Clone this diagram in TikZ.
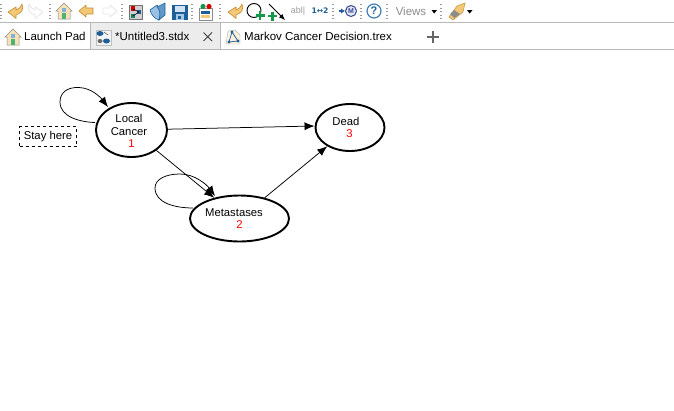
\documentclass[tikz,border=0pt]{standalone}
\usepackage{fontspec}
\setmainfont{Liberation Sans}
\newfontfamily\djv{DejaVu Sans}
\usetikzlibrary{arrows.meta,shapes.geometric}
\definecolor{tabgray}{HTML}{ECECEC}
\definecolor{linegray}{HTML}{B8B8B8}
\definecolor{iconorange}{HTML}{F4C877}
\definecolor{iconedge}{HTML}{C08F35}
\definecolor{ghost}{HTML}{E6E6E6}
\definecolor{iconblue}{HTML}{1F5F99}
\definecolor{iconsky}{HTML}{7FB2DC}
\definecolor{icongreen}{HTML}{12994A}
\tikzset{
  x=1pt,y=-1pt,
  state/.style={ellipse,draw=black,line width=1.9pt,fill=white,inner sep=0pt},
  link/.style={draw=black,line width=0.75pt,-{Latex[length=10pt,width=8pt]}},
  label/.style={font=\fontsize{11.3}{13}\selectfont,inner sep=0pt},
  tabtext/.style={font=\fontsize{11.5}{13}\selectfont,anchor=west,inner sep=0pt,text=black},
  dots/.style={draw=black!40,line width=1.3pt,dash pattern=on 1.3pt off 2.2pt},
  back/.style={draw=iconedge,fill=iconorange,line width=.6pt,line join=round},
  fwd/.style={draw=ghost,fill=white,line width=.8pt,line join=round},
  plusgreen/.style={draw=icongreen,line width=2.2pt},
}
\newcommand{\houseicon}[2]{%
  \fill[iconorange!55!white,draw=black!45,line width=.5pt] (#1-8,#2) -- (#1,#2-8) -- (#1+8,#2) -- (#1+6,#2) -- (#1+6,#2+8) -- (#1-6,#2+8) -- (#1-6,#2) -- cycle;
  \fill[icongreen!75!white] (#1-1.7,#2+2) rectangle (#1+1.7,#2+8);
  \fill[iconsky] (#1-1.7,#2-3) rectangle (#1+1.7,#2+.5);
}
% curved back arrow, drawn from its left edge #1 and top #2
\newcommand{\backicon}[2]{%
  \draw[back] (#1+14,#2) .. controls (#1+16,#2+5) and (#1+14,#2+9) .. (#1+8,#2+11) -- (#1+8,#2+14.5) -- (#1,#2+8) -- (#1+8,#2+3) -- (#1+8,#2+6) .. controls (#1+11,#2+5) and (#1+13,#2+3) .. (#1+14,#2) -- cycle;
}
\begin{document}
\begin{tikzpicture}
\useasboundingbox (0,0) rectangle (674,410);
\fill[white] (0,0) rectangle (674,410);
% toolbar and tab strip
\fill[tabgray] (90,23) rectangle (220,49);
\draw[linegray,line width=.7pt] (0,22.5) -- (674,22.5);
\draw[linegray,line width=.7pt] (0,49.5) -- (674,49.5);
\draw[linegray,line width=.7pt] (90.5,23) -- (90.5,49);
\draw[linegray,line width=.7pt] (220.5,23) -- (220.5,49);
% separators
\foreach \xx in {1,50,122,192,220,333,361,387,441}{\draw[dots] (\xx,4) -- (\xx,20);}
% back and forward icons
\backicon{8}{4}
\draw[fwd] (29,4) .. controls (27,9) and (29,13) .. (35,15) -- (35,18.5) -- (43,12) -- (35,7) -- (35,10) .. controls (32,9) and (30,7) .. (29,4) -- cycle;
\houseicon{64}{11}
\draw[back] (79,11) -- (86,5) -- (86,8) -- (93,8) -- (93,14) -- (86,14) -- (86,17) -- cycle;
\draw[fwd] (117,11) -- (110,5) -- (110,8) -- (103,8) -- (103,14) -- (110,14) -- (110,17) -- cycle;
% diagram icon
\fill[black!18,draw=black!55,line width=.5pt] (129,5) rectangle (142,19);
\fill[red!80!black] (130.5,6) rectangle (135,10.5);
\fill[iconblue] (137,10) rectangle (141,14);
\fill[icongreen!60!iconblue] (130.5,14) rectangle (135,18);
\draw[black,line width=.5pt] (133,16) -- (139,12) (133,9) -- (139,12);
% book icon
\fill[iconsky!80!white,draw=iconblue,line width=.6pt] (150,10) -- (157,5) .. controls (160,8) and (161,12) .. (159,20) .. controls (155,19) and (151,15) .. (150,10) -- cycle;
\fill[iconsky!70!iconblue,draw=iconblue,line width=.6pt] (157,7) -- (165,3) -- (165,15) -- (159,20) .. controls (161,14) and (160,10) .. (157,7) -- cycle;
% save icon
\fill[iconblue] (172,4.5) rectangle (187.5,20);
\fill[iconsky!35!white] (175,6) rectangle (184.5,12);
\fill[iconsky!70!white] (176,14) rectangle (184,20);
\fill[iconblue] (178,15.5) rectangle (180.5,19);
% chart icon
\fill[white,draw=black!45,line width=.4pt] (199,8) rectangle (212,20);
\fill[iconblue] (201,11) rectangle (210,14);
\fill[iconorange] (201,15) rectangle (210,18);
\fill[icongreen] (203,6.5) circle (2.6pt);
\fill[red!85!black] (209,6.5) circle (2.6pt);
% second back icon
\backicon{228}{4}
% add node
\draw[black,line width=.95pt] (254,10.5) circle (7pt);
\draw[plusgreen] (255.5,15.5) -- (264.5,15.5) (260,11) -- (260,20);
% add link
\draw[black,line width=.9pt,-{Latex[length=6pt,width=5pt]}] (269,4) -- (285,20);
\draw[plusgreen] (268,16) -- (277,16) (272.5,11.5) -- (272.5,20.5);
\node[font=\fontsize{9}{10}\selectfont,text=black!38,inner sep=0pt] (ab) at (298,11) {abl|};
\node[font=\djv\bfseries\fontsize{7.6}{9}\selectfont,text=iconblue,inner sep=0pt] (ot) at (320,10.5) {1↔2};
% markov
\draw[iconblue,line width=1.1pt,-{Latex[length=4pt,width=5.5pt]}] (339,11) -- (345,11);
\draw[iconblue!70!violet,fill=iconsky!25!white,line width=1pt] (351,11) circle (5.5pt);
\node[font=\bfseries\fontsize{7}{8}\selectfont,text=iconblue!70!violet,inner sep=0pt] (mm) at (351,11) {M};
% help
\draw[iconblue!60!iconsky,line width=1.2pt] (374,11) circle (7pt);
\node[font=\bfseries\fontsize{11}{12}\selectfont,text=iconblue,inner sep=0pt] (hp) at (374,11) {?};
\node[font=\fontsize{11.5}{13}\selectfont,text=black!45,inner sep=0pt] (vw) at (411,11) {Views};
\fill[black] (431.5,10) -- (437,10) -- (434.2,13.5) -- cycle;
% rocket
\fill[iconorange,draw=iconedge,line width=.5pt] (449,17) -- (457,6) -- (465,3) -- (463,12) -- (453,20) -- cycle;
\fill[black!45] (454,10) -- (460,14) -- (454,18) -- (450,14) -- cycle;
\fill[black] (467,10) -- (472.5,10) -- (469.7,13.5) -- cycle;
% tabs
\houseicon{13}{37}
\node[tabtext] (t1) at (24,36.5) {Launch Pad};
% untitled icon
\fill[tabgray!60!white,draw=black!25,line width=.4pt] (96,30) rectangle (111,45);
\fill[iconblue] (100,33.5) ellipse (3.5pt and 2.5pt);
\fill[iconblue] (106.5,41) ellipse (3.5pt and 2.5pt);
\fill[black!60] (100,41) ellipse (2.5pt and 2pt);
\draw[black!60,line width=.6pt] (104,32) -- (108,35);
\node[tabtext] (t2) at (115,36.5) {*Untitled3.stdx};
\draw[black!75,line width=.8pt] (203.5,32.5) -- (212,41) (212,32.5) -- (203.5,41);
% markov icon
\fill[iconorange!25!white,draw=black!30,line width=.4pt] (228,31) -- (235,30) -- (240,35) -- (240,44) -- (226,44) -- cycle;
\draw[iconblue,line width=.7pt] (232,32) -- (229,42) -- (238,41) -- cycle;
\fill[iconblue] (232,32) circle (1.6pt) (229,42) circle (1.6pt) (238,41) circle (1.6pt);
\node[tabtext] (t3) at (244,36.5) {Markov Cancer Decision.trex};
\draw[black!60,line width=1.4pt] (427,37) -- (439,37) (433,31) -- (433,43);
% diagram
\node[state,minimum width=71pt,minimum height=54pt] (lc) at (131.5,130) {};
\node[state,minimum width=99pt,minimum height=46pt] (ms) at (239.5,218.5) {};
\node[state,minimum width=69pt,minimum height=47pt] (dd) at (350,127.5) {};
\node[label] (lct1) at (129,118.5) {Local};
\node[label] (lct2) at (129,131.5) {Cancer};
\node[label,text=red] (lcn) at (131.5,143.5) {1};
\node[label] (mst) at (234,212.5) {Metastases};
\node[label,text=red] (msn) at (239.5,224.5) {2};
\node[label] (ddt) at (346,121) {Dead};
\node[label,text=red] (ddn) at (349.5,133.5) {3};
\node[label,draw=black,dashed,line width=.7pt,minimum width=57pt,minimum height=20pt] (stay) at (48,136.5) {Stay here};
% links
\path[link] (lc) -- ([yshift=1.5pt]dd.west);
\path[link] (lc) -- (ms);
\path[link] (ms) -- (dd);
\coordinate (lcin) at (108,107);
\coordinate (lcout) at (95,122.5);
\coordinate (msin) at (215,196);
\coordinate (msout) at (193,208);
\draw[link] (lcout) .. controls (80,122) and (60,117) .. (60,102) .. controls (60,92) and (68,87) .. (79,87.5) .. controls (92,88) and (101,98) .. (lcin);
\draw[link] (msout) .. controls (175,208) and (155,203) .. (155,188) .. controls (155,179) and (166,174) .. (180,174) .. controls (195,174) and (207,185) .. (msin);
\end{tikzpicture}
\end{document}
